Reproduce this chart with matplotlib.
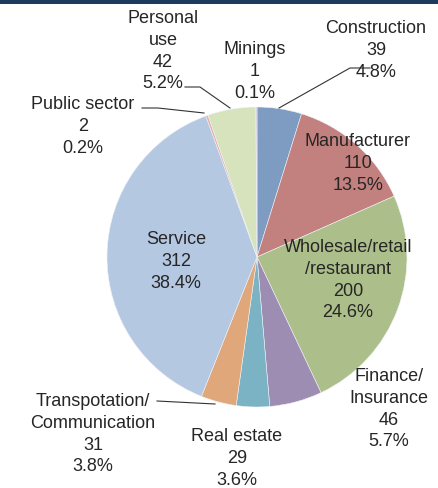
import matplotlib
matplotlib.use("Agg")
from matplotlib import pyplot
from matplotlib import patches

# industry breakdown, in clockwise order from 12 o'clock
sectors = ['Construction', 'Manufacturer', 'Wholesale/retail\n/restaurant',
           'Finance/\nInsurance', 'Real estate', 'Transpotation/\nCommunication',
           'Service', 'Public sector', 'Personal\nuse', 'Minings']
counts = [39, 110, 200, 46, 29, 31, 312, 2, 42, 1]
slice_colors = ['#7E9BC1', '#C2807E', '#ACBF8A', '#9D8DB2', '#7BB3C5',
                '#DFA77A', '#B5C8E2', '#E6B0AE', '#D7E3BD', '#C9C0DA']

W, H = 438, 488

def py(y):
    # pixel row (from the top) -> data y
    return H - y

fig = pyplot.figure(figsize=(W / 100, H / 100), dpi=100)
ax = fig.add_axes([0, 0, 1, 1])

ax.pie(counts, colors=slice_colors, startangle=90, counterclock=False,
       center=(257, py(257)), radius=150, frame=True,
       wedgeprops=dict(edgecolor='#EEF2F6', linewidth=0.4))
ax.set_xlim(0, W)
ax.set_ylim(0, H)
ax.set_aspect('equal')
ax.set_axis_off()

# navy strip along the top edge
fig.patches.append(patches.Rectangle((0, 1 - 3.5 / H), 1, 3.5 / H, transform=fig.transFigure,
                                     facecolor='#1D3A5F', edgecolor='none', zorder=5))

total = sum(counts)
# label block: x centre, y of the first line's centre (pixels from top)
label_pos = [(376, 27), (358, 140), (348, 246), (389, 375), (237, 435),
             (93, 400), (176, 238), (83, 103), (163, 17), (255, 48)]

for name, n, (lx, ly) in zip(sectors, counts, label_pos):
    txt = '%s\n%d\n%.1f%%' % (name, n, 100.0 * n / total)
    ax.text(lx, py(ly - 7), txt, ha='center', va='top', ma='center',
            fontsize=13, family='Liberation Sans', color='#262626',
            linespacing=1.37)

# leader lines
leaders = [
    [(370, 68), (350, 68), (279, 108)],   # Construction
    [(185, 87), (200, 87), (230, 108)],   # Personal use
    [(142, 108), (158, 108), (204, 113)], # Public sector
    [(157, 401), (215, 404)],             # Transportation
]
for pts in leaders:
    ax.plot([p[0] for p in pts], [py(p[1]) for p in pts], color='#333333', linewidth=0.8)

pyplot.savefig('out.png', dpi=100)
